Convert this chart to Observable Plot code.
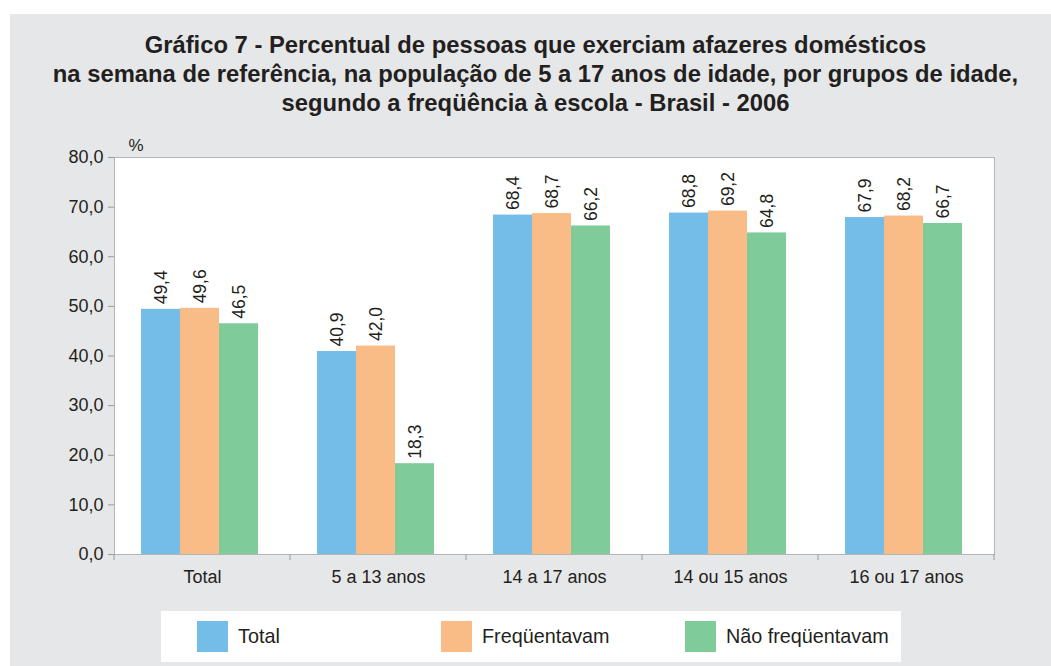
<!DOCTYPE html>
<html>
<head>
<meta charset="utf-8">
<script src="https://cdn.jsdelivr.net/npm/d3@7"></script>
<script src="https://cdn.jsdelivr.net/npm/@observablehq/plot@0.6"></script>
<style>
  html, body { margin: 0; padding: 0; background: #ffffff; }
  body { width: 1051px; height: 666px; position: relative; overflow: hidden; font-family: "Liberation Sans", Arial, sans-serif; color: #231f20; }
  #panel { position: absolute; left: 10px; top: 14px; width: 1041px; height: 652px; background: #e6e7e8; }
  #title { padding-top: 16px; padding-left: 10px; height: 87px; text-align: center; font-weight: bold; font-size: 23.8px; line-height: 29px; }
  #chart { height: 482px; }
  #legend { position: absolute; left: 151px; top: 597px; width: 740px; height: 51px; background: #ffffff; display: flex; align-items: center; }
  .item { width: 244px; display: flex; align-items: center; padding-left: 36px; box-sizing: border-box; }
  .sw { width: 31px; height: 31px; margin-right: 10px; flex: none; }
  .lab { font-size: 19.8px; }
</style>
</head>
<body>
<div id="panel">
  <div id="title"></div>
  <div id="chart"></div>
  <div id="legend"></div>
</div>
<script>
const titleLines = [
  "Gráfico 7 - Percentual de pessoas que exerciam afazeres domésticos",
  "na semana de referência, na população de 5 a 17 anos de idade, por grupos de idade,",
  "segundo a freqüência à escola - Brasil - 2006"
];
const categories = ["Total", "5 a 13 anos", "14 a 17 anos", "14 ou 15 anos", "16 ou 17 anos"];
const seriesNames = ["Total", "Freqüentavam", "Não freqüentavam"];
const seriesColors = ["#74bde8", "#f9bc86", "#80cb9a"];
const totalValues = [49.4, 40.9, 68.4, 68.8, 67.9];
const freqValues = [49.6, 42.0, 68.7, 69.2, 68.2];
const naoFreqValues = [46.5, 18.3, 66.2, 64.8, 66.7];
const yTicks = [0, 10, 20, 30, 40, 50, 60, 70, 80];
const yUnit = "%";

const seriesValues = [totalValues, freqValues, naoFreqValues];
const rows = categories.flatMap((c, i) =>
  seriesNames.map((s, j) => ({category: c, series: s, value: seriesValues[j][i]}))
);
const fmt = v => v.toFixed(1).replace(".", ",");

document.getElementById("title").innerHTML = titleLines.map(t => `<div>${t}</div>`).join("");

const plot = Plot.plot({
  width: 1041,
  height: 482,
  marginLeft: 104,
  marginRight: 57,
  marginTop: 40,
  marginBottom: 45,
  style: {fontFamily: "'Liberation Sans', Arial, sans-serif", fontSize: "18px", color: "#231f20", background: "transparent", overflow: "visible"},
  fx: {domain: categories, paddingInner: 0, paddingOuter: 0, label: null},
  x: {domain: seriesNames, paddingInner: 0, paddingOuter: 0.756, align: 0.45, axis: null},
  y: {domain: [0, 80], label: null},
  color: {domain: seriesNames, range: seriesColors},
  marks: [
    Plot.frame({fill: "white", stroke: "#b5b5b5", facet: "super"}),
    Plot.barY(rows, {fx: "category", x: "series", y: "value", fill: "series"}),
    Plot.text(rows, {fx: "category", x: "series", y: "value", text: d => fmt(d.value), rotate: -90, textAnchor: "start", dy: -5, fontSize: 17.5, fill: "#231f20"}),
    Plot.axisY({ticks: yTicks, tickFormat: fmt, tickSize: 6, tickPadding: 5, stroke: "#9a9a9a", fill: "#231f20", fontSize: 18, label: null}),
    Plot.axisFx({anchor: "bottom", tickSize: 0, tickPadding: 16, fontSize: 18, fill: "#231f20", label: null}),
    Plot.text([yUnit], {frameAnchor: "top-left", dx: 14, dy: -19, facet: "super", fontSize: 17, fill: "#231f20"})
  ]
});
document.getElementById("chart").appendChild(plot);

// boundary ticks on the x axis, from the fx scale
const fxs = plot.scale("fx");
const ys = plot.scale("y");
const bounds = categories.map(c => fxs.apply(c)).concat([fxs.apply(categories[categories.length - 1]) + fxs.bandwidth]);
const y0 = ys.apply(0);
d3.select(plot).append("g")
  .attr("stroke", "#9a9a9a")
  .selectAll("line").data(bounds).join("line")
  .attr("x1", d => d).attr("x2", d => d)
  .attr("y1", y0).attr("y2", y0 + 6);

// legend
document.getElementById("legend").innerHTML = seriesNames.map((s, i) =>
  `<div class="item"><div class="sw" style="background:${seriesColors[i]}"></div><span class="lab">${s}</span></div>`
).join("");
</script>
</body>
</html>
